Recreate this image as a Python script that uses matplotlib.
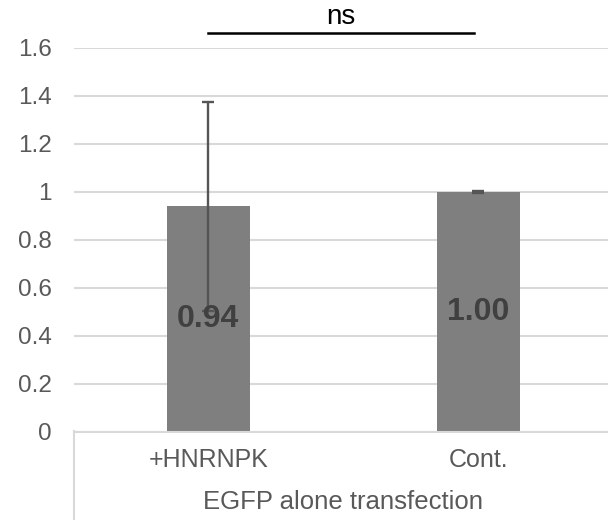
import matplotlib.pyplot as plt
from matplotlib.lines import Line2D
from matplotlib.transforms import blended_transform_factory

plt.rcParams['font.family'] = ['Liberation Sans', 'DejaVu Sans']

# data
categories = ['+HNRNPK', 'Cont.']
values = [0.94, 1.00]
errors = [0.435, 0.005]
value_labels = ['0.94', '1.00']
group_label = 'EGFP alone transfection'
sig_label = 'ns'
yticks = [0, 0.2, 0.4, 0.6, 0.8, 1, 1.2, 1.4, 1.6]
ytick_labels = ['0', '0.2', '0.4', '0.6', '0.8', '1', '1.2', '1.4', '1.6']

W, H = 608, 520
fig = plt.figure(figsize=(W / 100, H / 100), dpi=100)
# plot area runs a little past the right edge, like the cropped original
ax = fig.add_axes([73.5 / W, 88 / H, 539.5 / W, 384 / H])

xs = list(range(len(categories)))
ax.bar(xs, values, width=0.307, color='#7f7f7f', zorder=2)
ax.errorbar(xs, values, yerr=errors, fmt='none', ecolor='#555555',
            elinewidth=1.7, capsize=4.2, capthick=1.7, zorder=3)

for x, v, lab in zip(xs, values, value_labels):
    ax.text(x, v / 2, lab, ha='center', va='center', fontsize=23,
            fontweight='bold', color='#404040', zorder=4)

ax.set_xlim(-0.5, 1.5)
ax.set_ylim(0, 1.6)
ax.set_yticks(yticks)
ax.set_yticklabels(ytick_labels)
ax.yaxis.grid(True, color='#d9d9d9', linewidth=1.5, zorder=0)
ax.set_axisbelow(True)
ax.tick_params(axis='y', length=0, pad=15.5, labelsize=17.5,
               labelcolor='#595959')
ax.set_xticks([])
for s in ['top', 'right', 'left']:
    ax.spines[s].set_visible(False)
ax.spines['bottom'].set_color('#d9d9d9')
ax.spines['bottom'].set_linewidth(1.5)

# two-level category axis
tr = blended_transform_factory(ax.transData, fig.transFigure)
for x, c in zip(xs, categories):
    ax.text(x, 1 - 467 / H, c, transform=tr, ha='center', va='baseline',
            fontsize=18, color='#595959')
ax.text(sum(xs) / len(xs), 1 - 509 / H, group_label, transform=tr,
        ha='center', va='baseline', fontsize=18.5, color='#595959')
fig.add_artist(Line2D([73.5 / W, 73.5 / W], [0, 89 / H], color='#d9d9d9',
                      linewidth=1.5))

# significance bar
ax.plot([0, 0.985], [1.661, 1.661], color='black', linewidth=1.8,
        clip_on=False)
ax.text(0.49, 1.70, sig_label, ha='center', va='baseline', fontsize=20,
        color='black', clip_on=False)

fig.savefig('out.png', dpi=100)
